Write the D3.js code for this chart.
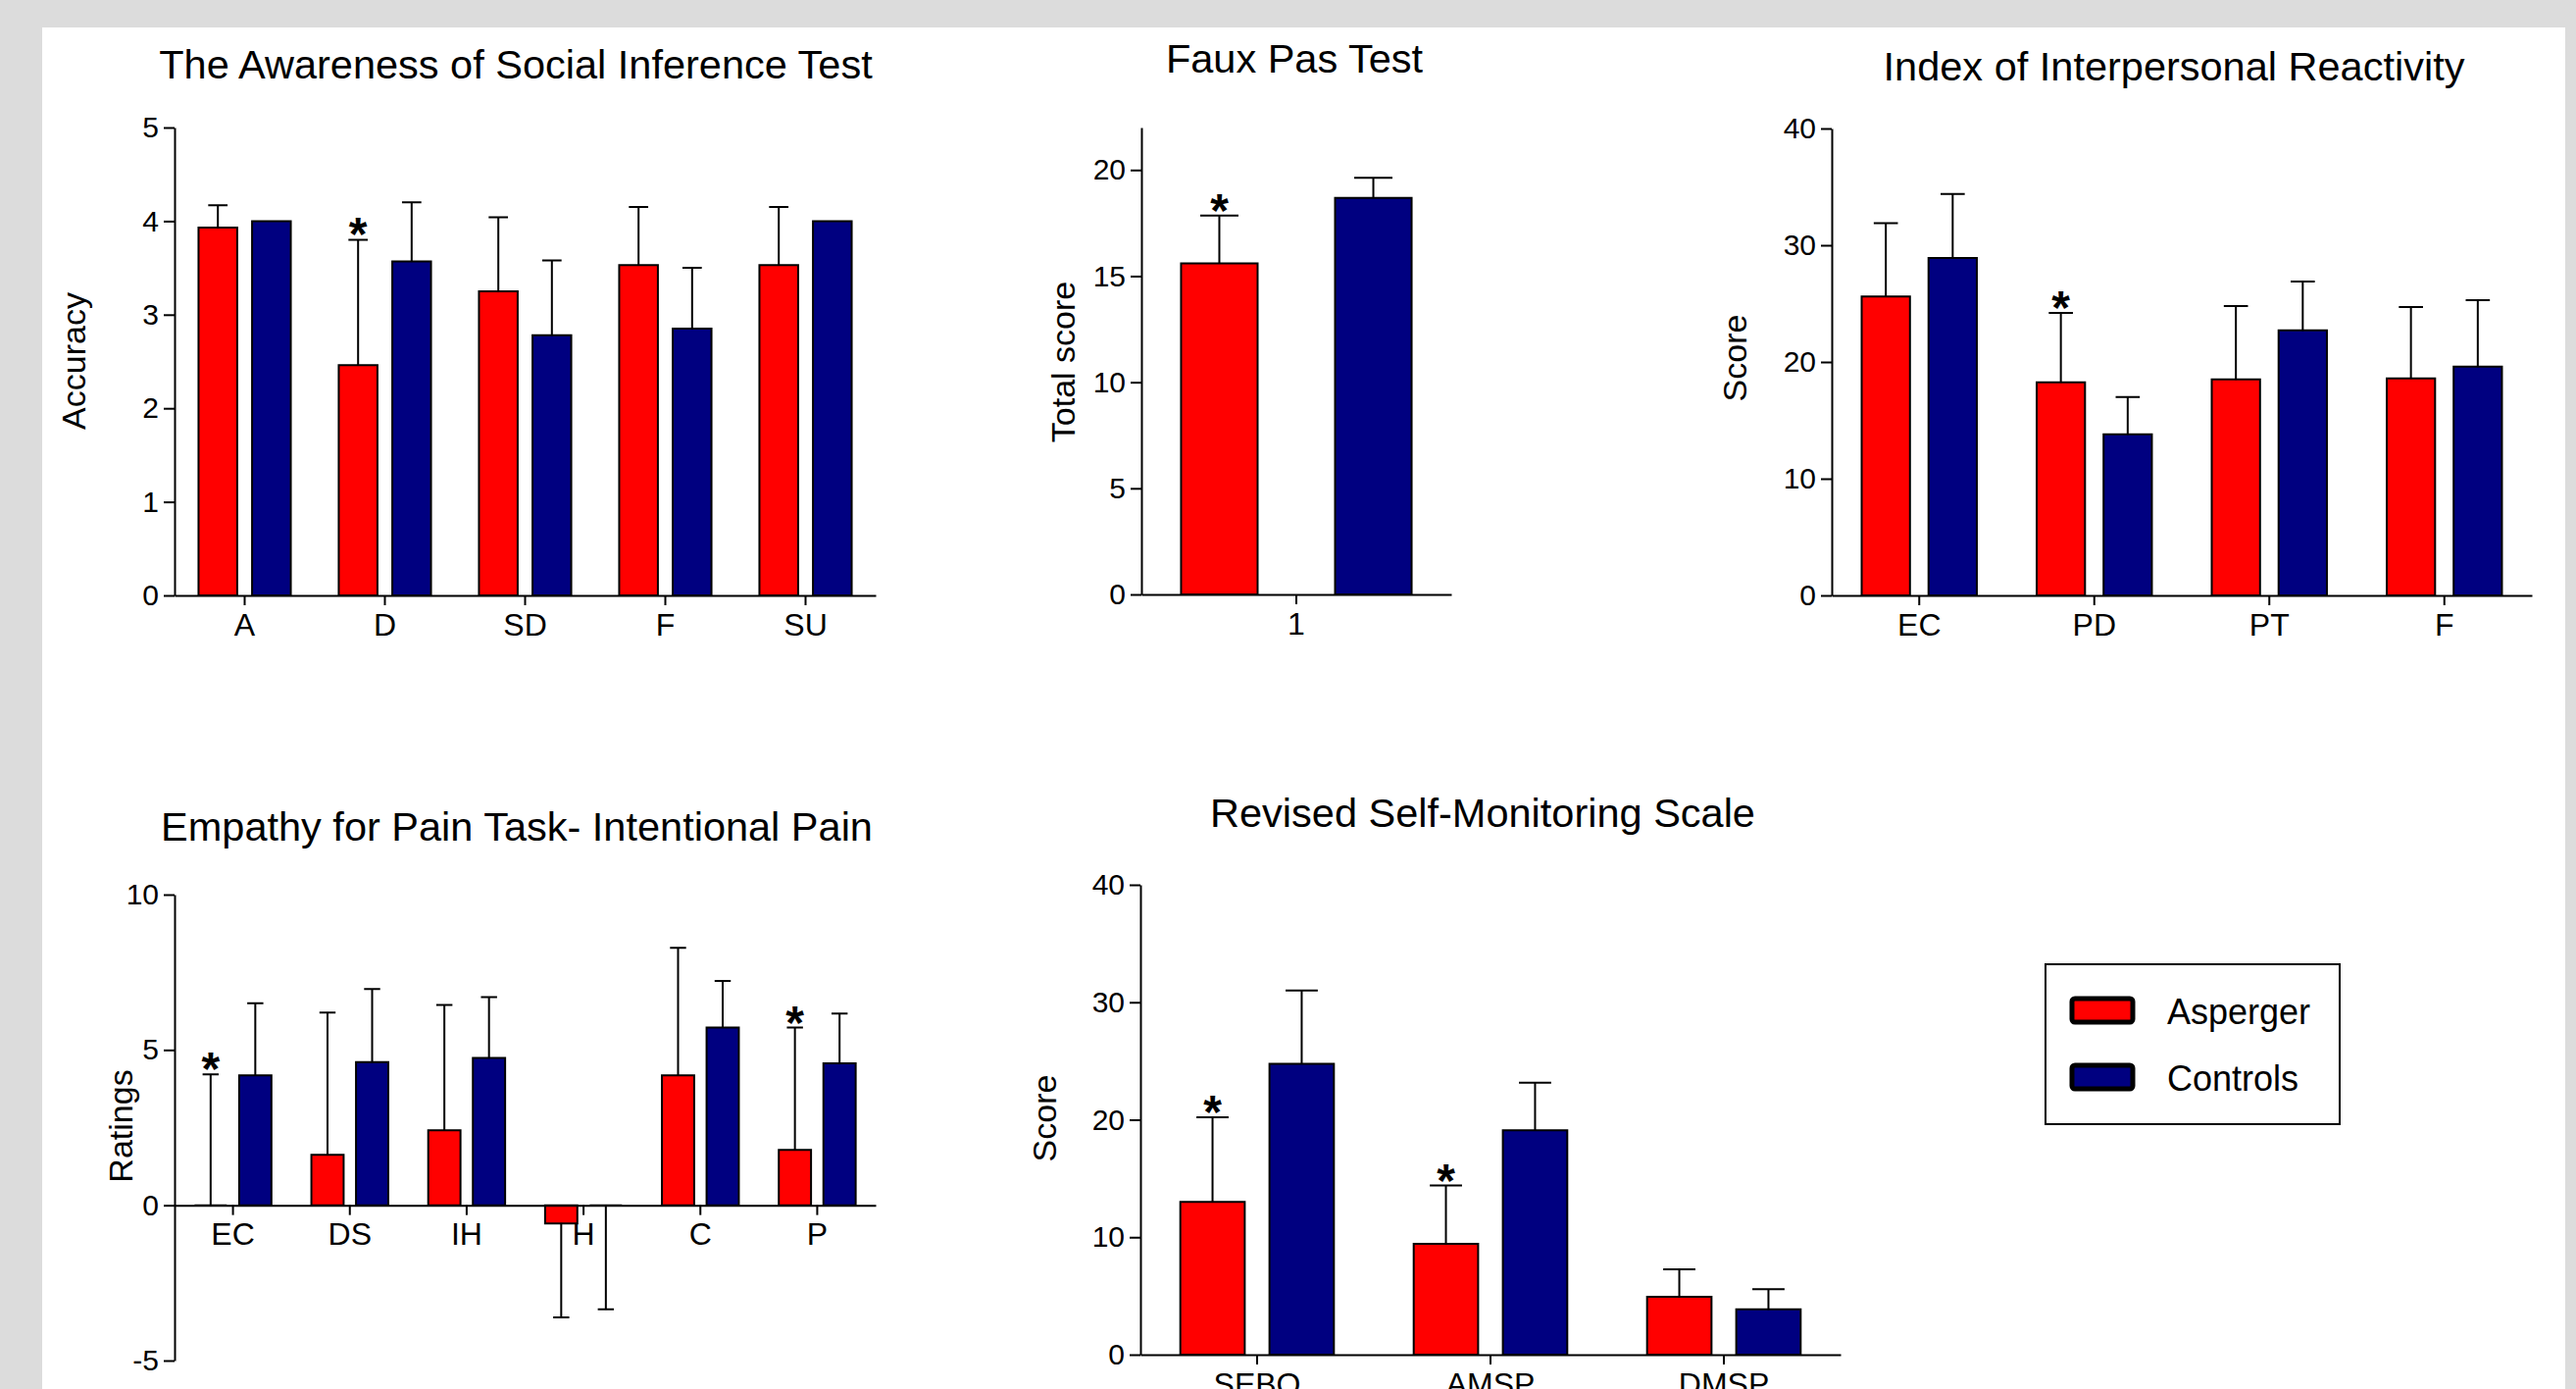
<!DOCTYPE html>
<html>
<head>
<meta charset="utf-8">
<script src="https://cdn.jsdelivr.net/npm/d3@7"></script>
<style>
  html, body { margin: 0; padding: 0; background: #dcdcdc; }
  svg { display: block; }
  text { font-family: "Liberation Sans", Arial, sans-serif; fill: #000; }
</style>
</head>
<body>
<svg id="chart" width="2627" height="1416"></svg>
<script>
const groups = ["Asperger", "Controls"];
const groupColors = ["#ff0000", "#000080"];

// error values are signed: negative means the bar's error goes downward
// The Awareness of Social Inference Test
const tasitCategories = ["A", "D", "SD", "F", "SU"];
const tasitAsperger = [3.93, 2.46, 3.25, 3.53, 3.53];
const tasitAspergerSD = [0.24, 1.34, 0.79, 0.62, 0.62];
const tasitControls = [4.0, 3.57, 2.78, 2.85, 4.0];
const tasitControlsSD = [0, 0.63, 0.80, 0.65, 0];
const tasitStars = ["D"];
const tasitTicks = [0, 1, 2, 3, 4, 5];

// Faux Pas Test
const fauxCategories = ["1"];
const fauxAsperger = [15.6];
const fauxAspergerSD = [2.25];
const fauxControls = [18.68];
const fauxControlsSD = [0.95];
const fauxStars = ["1"];
const fauxTicks = [0, 5, 10, 15, 20];

// Index of Interpersonal Reactivity
const iriCategories = ["EC", "PD", "PT", "F"];
const iriAsperger = [25.6, 18.25, 18.5, 18.6];
const iriAspergerSD = [6.3, 5.95, 6.3, 6.1];
const iriControls = [28.9, 13.8, 22.7, 19.6];
const iriControlsSD = [5.5, 3.2, 4.2, 5.7];
const iriStars = ["PD"];
const iriTicks = [0, 10, 20, 30, 40];

// Empathy for Pain Task- Intentional Pain
const painCategories = ["EC", "DS", "IH", "H", "C", "P"];
const painAsperger = [0, 1.62, 2.41, -0.59, 4.18, 1.78];
const painAspergerSD = [4.21, 4.58, 4.04, -3.02, 4.11, 3.94];
const painControls = [4.18, 4.61, 4.74, 0, 5.72, 4.57];
const painControlsSD = [2.32, 2.35, 1.96, -3.35, 1.5, 1.6];
const painStars = ["EC", "P"];
const painTicks = [-5, 0, 5, 10];

// Revised Self-Monitoring Scale
const rsmsCategories = ["SEBO", "AMSP", "DMSP"];
const rsmsAsperger = [13.0, 9.44, 4.92];
const rsmsAspergerSD = [7.2, 4.96, 2.35];
const rsmsControls = [24.75, 19.1, 3.87];
const rsmsControlsSD = [6.25, 4.06, 1.7];
const rsmsStars = ["SEBO", "AMSP"];
const rsmsTicks = [0, 10, 20, 30, 40];

const svg = d3.select("#chart");

// white page
svg.append("rect")
  .attr("x", 43).attr("y", 28)
  .attr("width", 2616 - 43).attr("height", 1416 - 28)
  .attr("fill", "#ffffff");

function barChart(cfg) {
  const g = svg.append("g");

  const x = d3.scaleBand()
    .domain(cfg.categories)
    .range([cfg.left, cfg.right]);

  const y = d3.scaleLinear()
    .domain(cfg.domain)
    .range([cfg.bottom, cfg.top]);

  const bw = x.bandwidth() * cfg.barFrac;
  const gap = x.bandwidth() * cfg.gapFrac;
  const offsets = [-gap - bw, gap];

  const series = [
    { values: cfg.asperger, sd: cfg.aspergerSD },
    { values: cfg.controls, sd: cfg.controlsSD }
  ];

  series.forEach((s, si) => {
    const rows = cfg.categories.map((c, i) => ({ cat: c, v: s.values[i], e: s.sd[i] }));
    const left = d => x(d.cat) + x.bandwidth() / 2 + offsets[si];

    // error bars
    g.selectAll(null)
      .data(rows.filter(d => d.e !== 0))
      .enter()
      .append("path")
      .attr("fill", "none")
      .attr("stroke", "#000")
      .attr("stroke-width", 2)
      .attr("d", d => {
        const cx = left(d) + bw / 2;
        const yEnd = y(d.v + d.e);
        return `M${cx},${y(d.v)}V${yEnd}M${cx - bw / 4},${yEnd}H${cx + bw / 4}`;
      });

    // bars (paths so that zero-height bars still show as a line)
    g.selectAll(null)
      .data(rows)
      .enter()
      .append("path")
      .attr("fill", groupColors[si])
      .attr("stroke", "#000")
      .attr("stroke-width", 2)
      .attr("d", d => {
        const x0 = left(d), x1 = x0 + bw;
        const y0 = y(0), y1 = y(d.v);
        return `M${x0},${y0}V${y1}H${x1}V${y0}Z`;
      });

    // significance stars (Asperger group only)
    if (si === 0) {
      g.selectAll(null)
        .data(rows.filter(d => cfg.stars.includes(d.cat)))
        .enter()
        .append("text")
        .attr("x", d => left(d) + bw / 2)
        .attr("y", d => y(d.v + d.e) + 11)
        .attr("text-anchor", "middle")
        .style("font-size", "48px")
        .style("font-weight", "bold")
        .text("*");
    }
  });

  const yAxis = g.append("g")
    .attr("transform", `translate(${cfg.left},0)`)
    .call(d3.axisLeft(y)
      .tickValues(cfg.ticks)
      .tickFormat(d => String(d))
      .tickSize(11)
      .tickSizeOuter(0)
      .tickPadding(5));

  const xAxis = g.append("g")
    .attr("transform", `translate(0,${y(0)})`)
    .call(d3.axisBottom(x).tickSize(10).tickSizeOuter(0).tickPadding(8));

  [yAxis, xAxis].forEach(a => {
    a.selectAll("path, line").attr("stroke", "#000").attr("stroke-width", 2);
    a.selectAll("text").attr("fill", "#000").style("font-family", "'Liberation Sans', Arial, sans-serif");
  });
  yAxis.selectAll("text").style("font-size", "30px");
  xAxis.selectAll("text").style("font-size", "32px");

  g.append("text")
    .attr("x", cfg.titleX)
    .attr("y", cfg.titleY)
    .attr("text-anchor", "middle")
    .style("font-size", "41.5px")
    .text(cfg.title);

  g.append("text")
    .attr("transform", `translate(${cfg.yLabelX},${cfg.yLabelY}) rotate(-90)`)
    .attr("text-anchor", "middle")
    .style("font-size", "34px")
    .text(cfg.yLabel);
}

barChart({
  title: "The Awareness of Social Inference Test", titleX: 526, titleY: 80,
  yLabel: "Accuracy", yLabelX: 87, yLabelY: 368,
  categories: tasitCategories, asperger: tasitAsperger, aspergerSD: tasitAspergerSD,
  controls: tasitControls, controlsSD: tasitControlsSD, stars: tasitStars, ticks: tasitTicks,
  domain: [0, 5], left: 178, right: 893, top: 130, bottom: 607,
  barFrac: 0.276, gapFrac: 0.053
});

barChart({
  title: "Faux Pas Test", titleX: 1320, titleY: 74,
  yLabel: "Total score", yLabelX: 1096, yLabelY: 369,
  categories: fauxCategories, asperger: fauxAsperger, aspergerSD: fauxAspergerSD,
  controls: fauxControls, controlsSD: fauxControlsSD, stars: fauxStars, ticks: fauxTicks,
  domain: [0, 22], left: 1164, right: 1480, top: 130, bottom: 606,
  barFrac: 0.247, gapFrac: 0.125
});

barChart({
  title: "Index of Interpersonal Reactivity", titleX: 2217, titleY: 82,
  yLabel: "Score", yLabelX: 1781, yLabelY: 365,
  categories: iriCategories, asperger: iriAsperger, aspergerSD: iriAspergerSD,
  controls: iriControls, controlsSD: iriControlsSD, stars: iriStars, ticks: iriTicks,
  domain: [0, 40], left: 1868, right: 2582, top: 131, bottom: 607,
  barFrac: 0.276, gapFrac: 0.053
});

barChart({
  title: "Empathy for Pain Task- Intentional Pain", titleX: 527, titleY: 857,
  yLabel: "Ratings", yLabelX: 135, yLabelY: 1148,
  categories: painCategories, asperger: painAsperger, aspergerSD: painAspergerSD,
  controls: painControls, controlsSD: painControlsSD, stars: painStars, ticks: painTicks,
  domain: [-5, 10], left: 178, right: 893, top: 912, bottom: 1387,
  barFrac: 0.276, gapFrac: 0.053
});

barChart({
  title: "Revised Self-Monitoring Scale", titleX: 1512, titleY: 843,
  yLabel: "Score", yLabelX: 1077, yLabelY: 1140,
  categories: rsmsCategories, asperger: rsmsAsperger, aspergerSD: rsmsAspergerSD,
  controls: rsmsControls, controlsSD: rsmsControlsSD, stars: rsmsStars, ticks: rsmsTicks,
  domain: [0, 40], left: 1163, right: 1877, top: 902, bottom: 1381,
  barFrac: 0.276, gapFrac: 0.053
});

// legend
const legend = svg.append("g");
legend.append("rect")
  .attr("x", 2086).attr("y", 983)
  .attr("width", 300).attr("height", 163)
  .attr("fill", "#fff")
  .attr("stroke", "#000")
  .attr("stroke-width", 2);

const legendY = d3.scalePoint().domain(groups).range([1030, 1098]);

legend.selectAll(".swatch")
  .data(groups)
  .enter()
  .append("rect")
  .attr("class", "swatch")
  .attr("x", 2113)
  .attr("y", d => legendY(d) - 12)
  .attr("width", 62)
  .attr("height", 24)
  .attr("rx", 3)
  .attr("fill", (d, i) => groupColors[i])
  .attr("stroke", "#000")
  .attr("stroke-width", 5);

legend.selectAll(".label")
  .data(groups)
  .enter()
  .append("text")
  .attr("class", "label")
  .attr("x", 2210)
  .attr("y", d => legendY(d) + 14)
  .style("font-size", "36px")
  .text(d => d);
</script>
</body>
</html>
